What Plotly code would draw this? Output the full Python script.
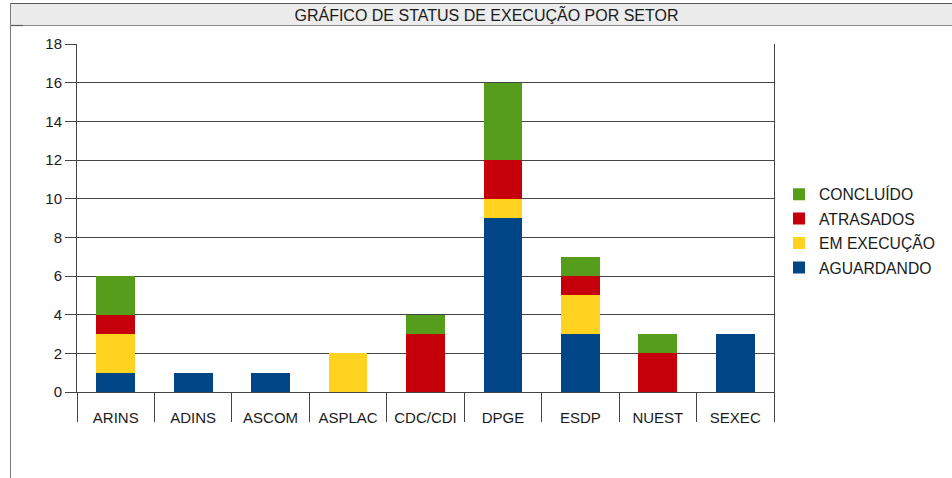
import plotly.graph_objects as go

categories = ["ARINS", "ADINS", "ASCOM", "ASPLAC", "CDC/CDI", "DPGE", "ESDP", "NUEST", "SEXEC"]
aguardando = [1, 1, 1, 0, 0, 9, 3, 0, 3]
em_execucao = [2, 0, 0, 2, 0, 1, 2, 0, 0]
atrasados = [1, 0, 0, 0, 3, 2, 1, 2, 0]
concluido = [2, 0, 0, 0, 1, 4, 1, 1, 0]
series_names = ["AGUARDANDO", "EM EXECUÇÃO", "ATRASADOS", "CONCLUÍDO"]
series_values = [aguardando, em_execucao, atrasados, concluido]
series_colors = ["#004586", "#ffd320", "#c5000b", "#579d1c"]
y_ticks = [0, 2, 4, 6, 8, 10, 12, 14, 16, 18]
title_text = "GRÁFICO DE STATUS DE EXECUÇÃO POR SETOR"

W, H = 952, 478
L, R, T, B = 77, 774, 44, 392
FONT = "Liberation Sans, Arial, sans-serif"


def px_x(p):
    return (p - L) / (R - L)


def px_y(p):
    return (B - p) / (B - T)


fig = go.Figure()
for i, (name, vals, col) in enumerate(zip(series_names, series_values, series_colors)):
    fig.add_trace(go.Bar(
        x=categories, y=vals, name=name, marker=dict(color=col, line=dict(width=0)),
        width=0.5, legendgroup=name, legendrank=100 - i,
    ))

shapes = [
    # header band
    dict(type="rect", xref="paper", yref="paper", x0=px_x(10), x1=px_x(953), y0=px_y(26), y1=px_y(3),
         fillcolor="#ececec", line=dict(width=0), layer="below"),
    dict(type="line", xref="paper", yref="paper", x0=px_x(10), x1=px_x(953), y0=px_y(3.5), y1=px_y(3.5),
         line=dict(color="#5a5a5a", width=1.2)),
    dict(type="line", xref="paper", yref="paper", x0=px_x(10), x1=px_x(953), y0=px_y(25.5), y1=px_y(25.5),
         line=dict(color="#8a8a8a", width=1)),
    dict(type="line", xref="paper", yref="paper", x0=px_x(10), x1=px_x(23), y0=px_y(25.5), y1=px_y(25.5),
         line=dict(color="#5a5a5a", width=1.2)),
    dict(type="line", xref="paper", yref="paper", x0=px_x(10.5), x1=px_x(10.5), y0=px_y(3), y1=px_y(480),
         line=dict(color="#7a7a7a", width=1)),
]

fig.update_layout(
    width=W, height=H,
    margin=dict(l=L, r=W - R, t=T, b=H - B, pad=0),
    paper_bgcolor="white", plot_bgcolor="white",
    barmode="stack",
    font=dict(family=FONT, size=15, color="#1a1a1a"),
    title=dict(text=title_text, x=486.5 / W, xanchor="center", y=1 - 15 / H, yanchor="middle",
               font=dict(family=FONT, size=16, color="#1a1a1a")),
    showlegend=True,
    legend=dict(x=px_x(779), xanchor="left", y=px_y(231), yanchor="middle",
                traceorder="grouped", tracegroupgap=1,
                font=dict(family=FONT, size=15.7, color="#1a1a1a"),
                bgcolor="rgba(0,0,0,0)"),
    shapes=shapes,
    bargap=0.5,
)

fig.update_yaxes(
    range=[0, 18], tickvals=y_ticks, showgrid=True, gridcolor="#454545", gridwidth=1,
    showline=True, linecolor="#454545", linewidth=1, mirror=True,
    ticks="outside", ticklen=11, tickcolor="#454545", tickwidth=1,
    zeroline=False, tickfont=dict(family=FONT, size=15, color="#1a1a1a"),
    fixedrange=True,
)
fig.update_xaxes(
    type="category", categoryorder="array", categoryarray=categories,
    showgrid=False, showline=True, linecolor="#454545", linewidth=1,
    ticks="outside", tickson="boundaries", ticklen=29, tickcolor="#454545", tickwidth=1,
    ticklabelstandoff=12,
    tickfont=dict(family=FONT, size=15, color="#1a1a1a"),
    fixedrange=True,
)

fig.write_html("out.html", config={"displayModeBar": False},
               post_script="document.body.style.margin='0';")
